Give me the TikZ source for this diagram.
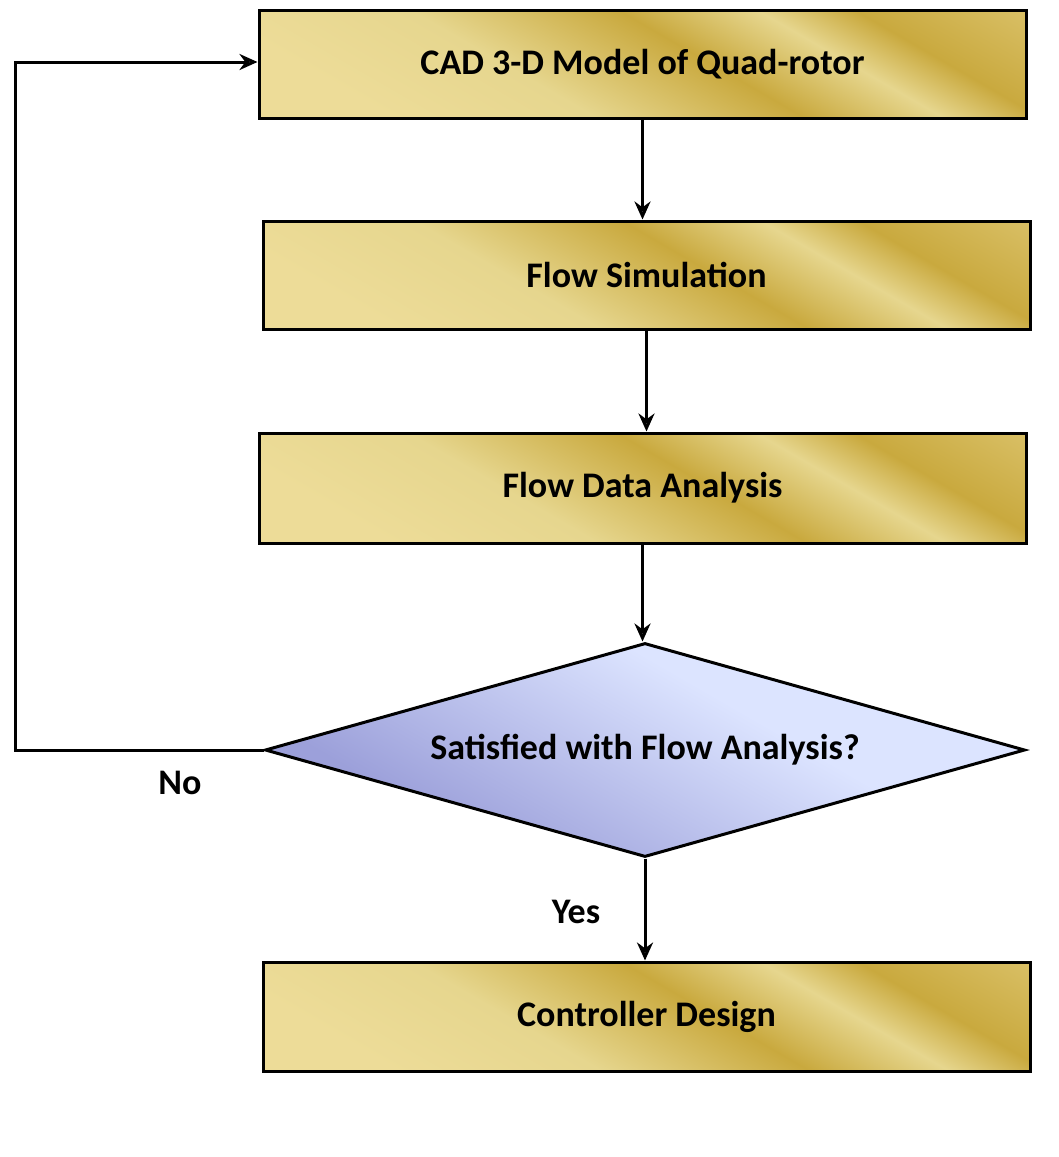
\documentclass[tikz,border=0pt]{standalone}
\usepackage{fontspec}
\setmainfont{Carlito}
\usetikzlibrary{shapes.geometric,arrows.meta}
\definecolor{g1}{HTML}{EDDC98}
\definecolor{g2}{HTML}{C9A93E}
\definecolor{g3}{HTML}{E6D68E}
\definecolor{b1}{HTML}{9CA0DA}
\definecolor{b2}{HTML}{DCE4FF}
\pgfdeclarehorizontalshading{gold}{100bp}{color(0bp)=(g1); color(25bp)=(g1); color(40bp)=(g3); color(55bp)=(g2); color(65bp)=(g3); color(72bp)=(g2); color(100bp)=(g1)}
\pgfdeclarehorizontalshading{blu}{100bp}{color(0bp)=(b1); color(30bp)=(b1); color(60bp)=(b2); color(100bp)=(b2)}
\begin{document}
\begin{tikzpicture}[x=1pt,y=-1pt,
  box/.style={draw=black,line width=3pt,shading=gold,shading angle=60,minimum height=108pt,inner sep=0pt,font=\bfseries\fontsize{36}{40}\selectfont},
  dia/.style={diamond,draw=black,line width=3pt,shading=blu,shading angle=60,aspect=3.55,inner sep=0pt,minimum width=760pt,minimum height=214pt,font=\bfseries\fontsize{36}{40}\selectfont},
  arr/.style={line width=3pt,-{Stealth[length=18pt,width=16pt,open,fill=none]}},
  lab/.style={font=\bfseries\fontsize{36}{40}\selectfont}]
\useasboundingbox (0,0) rectangle (1058,1157);
\node[box,minimum width=767pt] (a) at (642.5,64) {CAD 3-D Model of Quad-rotor};
\node[box,minimum width=767pt] (b) at (646.5,275) {Flow Simulation};
\node[box,minimum width=767pt,minimum height=110pt] (c) at (642.5,488) {Flow Data Analysis};
\node[dia] (d) at (645,750) {Satisfied with Flow Analysis?};
\node[box,minimum width=767pt,minimum height=109pt] (e) at (646.5,1016.5) {Controller Design};
\coordinate (p1) at (15,750);
\coordinate (p2) at (15,62);
\draw[arr] (a.south) -- (a.south|-b.north);
\draw[arr] (b.south) -- (b.south|-c.north);
\draw[arr] (c.south) -- (c.south|-d.north);
\draw[arr] (d.south) -- (d.south|-e.north);
\draw[arr] (d.west) -- (p1) -- (p2) -- (a.west|-p2);
\node[lab] (no) at (180,783) {No};
\node[lab] (yes) at (576,912) {Yes};
\end{tikzpicture}
\end{document}
